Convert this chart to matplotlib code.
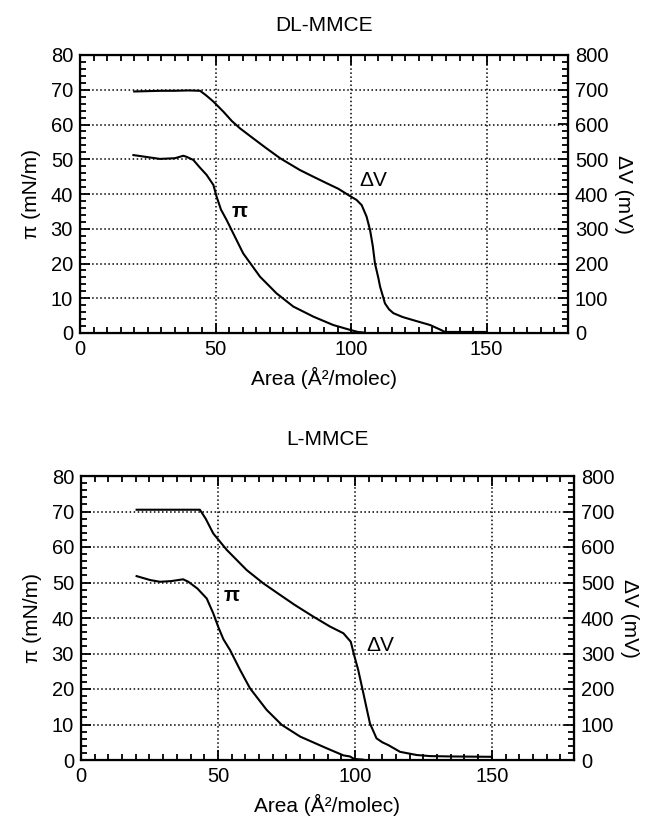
import matplotlib
matplotlib.use("Agg")
import matplotlib.pyplot as plt
from matplotlib.ticker import MultipleLocator

plt.rcParams['font.family'] = ['Liberation Sans', 'DejaVu Sans']

# ---- DL-MMCE (top) ----
dl_pi_area = [19.7, 25, 29.5, 35, 38.1, 39.3, 41.8, 44.0, 46.7, 49.2, 50.4, 52.0, 54.1, 56.5, 60.2, 66.4, 72.5,
              78.7, 86.1, 93.4, 99.6, 102.5, 105]
dl_pi_val = [51.2, 50.6, 50.1, 50.3, 51.0, 50.7, 49.8, 47.8, 45.5, 42.6, 39.2, 35.5, 32.5, 28.7, 22.9, 16.2, 11.4,
             7.6, 4.7, 2.3, 0.9, 0.3, 0.1]
dl_dv_area = [20, 25, 30, 35, 40, 44.3, 46.5, 49.2, 53, 56, 59.0, 63.9, 68.5, 73.8, 81.1, 86, 91.0, 95.3, 99.6,
              102.0, 103.9, 105.7, 107.0, 108.0, 108.8, 110.0, 110.7, 112.5, 114.0, 115.6, 119.0, 122.9, 129.1,
              132.8, 134.6, 140, 150]
dl_dv_val = [695, 696, 697, 697, 698, 697, 684, 666, 636, 610, 589, 560, 533, 503, 469, 450, 431, 415, 394,
             383, 368, 335, 296, 250, 200, 160, 133, 85, 68, 57, 46, 37, 23,
             10, 3, 3, 3]

# ---- L-MMCE (bottom) ----
l_pi_area = [20.3, 25.2, 28.8, 33, 37.3, 39.2, 42.5, 45.9, 48.3, 50.1, 52.0, 54.4, 58.0, 61.7, 67.8, 73.3, 80.0,
             89.7, 95.8, 98.2, 99.7, 103]
l_pi_val = [51.8, 50.7, 50.2, 50.4, 50.9, 50.2, 48.3, 45.5, 41.3, 37.5, 34.0, 31.0, 25.5, 20.2, 14.1, 9.9, 6.6,
            3.3, 1.3, 1.0, 0.3, 0.1]
l_dv_area = [20.3, 30, 40, 43.4, 45.5, 48.3, 53.2, 60.5, 66.5, 72.7, 78, 84.8, 90.9, 95.8, 98.5, 99.7, 101.2,
             103.1, 104.3, 105.5, 107.9, 110, 112.2, 116.5, 122.6, 127.4, 135, 150]
l_dv_val = [705, 705, 705, 705, 680, 638, 592, 535, 498, 465, 437, 404, 376, 357, 333, 296, 254,
            188, 145, 103, 61, 50, 42, 23, 14, 11, 10, 9]

panels = [
    ("DL-MMCE", dl_pi_area, dl_pi_val, dl_dv_area, dl_dv_val, (58.8, 35.0), (108.2, 43.9), 17),
    ("L-MMCE", l_pi_area, l_pi_val, l_dv_area, l_dv_val, (55.0, 46.3), (109.3, 32.2), 22),
]

fig = plt.figure(figsize=(6.47, 8.16), dpi=100)
rects = [[80/647, 1-333/816, 488/647, 278/816], [81/647, 1-760/816, 493/647, 284/816]]

FS = 15
TFS = 14.5
for rect, (title, pa, pv, da, dv, pi_pos, dv_pos, tpad) in zip(rects, panels):
    ax = fig.add_axes(rect)
    ax.plot(pa, pv, color='black', lw=1.5)
    ax.set_xlim(0, 180)
    ax.set_ylim(0, 80)
    ax.xaxis.set_major_locator(MultipleLocator(50))
    ax.xaxis.set_minor_locator(MultipleLocator(5))
    ax.yaxis.set_major_locator(MultipleLocator(10))
    ax.yaxis.set_minor_locator(MultipleLocator(2))
    ax.tick_params(which='both', direction='in', top=True, labelsize=TFS, width=1.3, pad=5)
    ax.tick_params(which='major', length=7)
    ax.tick_params(which='minor', length=4.5)
    ax.grid(True, which='major', linestyle=':', color='black', lw=1.1)
    for s in ax.spines.values():
        s.set_linewidth(1.6)
    ax.set_ylabel('π (mN/m)', fontsize=FS, labelpad=7)
    ax.set_xlabel('Area (Å²/molec)', fontsize=FS, labelpad=6)
    ax.set_title(title, fontsize=FS, pad=tpad)
    ax.text(pi_pos[0], pi_pos[1], 'π', fontsize=FS, fontweight='bold', ha='center', va='center')
    ax.text(dv_pos[0], dv_pos[1], 'ΔV', fontsize=FS, ha='center', va='center')

    ax2 = ax.twinx()
    ax2.plot(da, dv, color='black', lw=1.5)
    ax2.set_ylim(0, 800)
    ax2.yaxis.set_major_locator(MultipleLocator(100))
    ax2.yaxis.set_minor_locator(MultipleLocator(20))
    ax2.tick_params(which='both', direction='in', labelsize=TFS, width=1.3, pad=5)
    ax2.tick_params(which='major', length=7)
    ax2.tick_params(which='minor', length=4.5)
    ax2.set_ylabel('ΔV (mV)', fontsize=FS, rotation=270, labelpad=18)

fig.savefig('out.png', dpi=100)
